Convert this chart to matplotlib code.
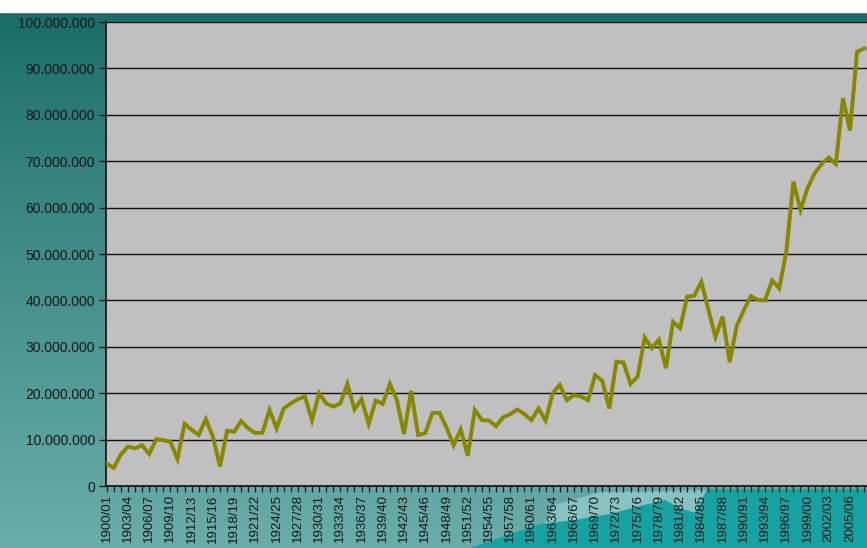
import numpy as np
import matplotlib
matplotlib.use("Agg")
import matplotlib.pyplot as plt
from matplotlib.patches import Polygon, Rectangle
from matplotlib.ticker import FuncFormatter, MultipleLocator

# Season labels 1900/01 ... 2007/08
start_years = list(range(1900, 2008))
seasons = [f"{y}/{(y + 1) % 100:02d}" for y in start_years]

# Yearly totals (millions)
values_m = [
    4.8, 3.9, 6.8, 8.5, 8.1, 8.8, 6.9, 10.1, 9.9, 9.5,
    5.8, 13.4, 12.1, 11.0, 14.4, 10.6, 4.2, 11.9, 11.7, 14.0,
    12.4, 11.4, 11.5, 16.4, 12.4, 16.7, 17.8, 18.7, 19.3, 14.2,
    20.0, 17.8, 17.1, 17.8, 22.0, 16.5, 18.7, 13.4, 18.4, 17.7,
    22.0, 18.5, 11.2, 20.5, 11.0, 11.4, 15.7, 15.8, 12.6, 8.8,
    12.2, 6.5, 16.4, 14.2, 14.1, 12.9, 14.8, 15.5, 16.5, 15.5,
    14.2, 16.7, 14.1, 20.0, 21.8, 18.5, 19.6, 19.3, 18.5, 23.9,
    22.7, 16.7, 26.8, 26.6, 22.0, 23.6, 32.0, 29.7, 31.5, 25.4,
    35.4, 34.0, 40.8, 41.0, 44.0, 38.0, 32.1, 36.5, 26.7, 34.5,
    37.9, 40.9, 40.1, 40.0, 44.3, 42.6, 50.5, 65.6, 59.5, 64.2,
    67.4, 69.4, 70.8, 69.4, 83.6, 76.6, 93.6, 94.3,
]
values = np.array(values_m) * 1e6

W, H = 867, 548
fig = plt.figure(figsize=(W / 100, H / 100), dpi=100)
fig.patch.set_facecolor("white")

# Teal backdrop
bg = fig.add_axes([0, 0, 1, 1], zorder=-5)
bg.set_xlim(0, W)
bg.set_ylim(H, 0)
bg.axis("off")
top = np.array([26, 108, 105]) / 255
bottom = np.array([106, 173, 169]) / 255
t = np.linspace(0, 1, 256)[:, None, None]
grad = top + (bottom - top) * t ** 0.9
grad = np.repeat(grad, 4, axis=1)
bg.imshow(grad, extent=(0, W, H, 12), aspect="auto", interpolation="bilinear")
bg.add_patch(Rectangle((0, 0), W, 12, color="white"))
bg.add_patch(Polygon([(530, 548), (555, 505), (600, 492), (707, 490), (707, 548)],
                     closed=True, color="#88c3c1", lw=0))
bg.add_patch(Polygon([(470, 548), (505, 536), (540, 524), (575, 520), (610, 514),
                      (640, 506), (665, 500), (680, 508), (695, 513), (707, 489),
                      (867, 489), (867, 548)],
                     closed=True, color="#16a2a1", lw=0))

ax = fig.add_axes([106 / W, (H - 486) / H, (W - 106) / W, (486 - 22) / H])
ax.set_facecolor("#c0c0c0")

x = np.arange(len(seasons))
ax.plot(x, values, color="#878700", lw=2.8, solid_joinstyle="miter", zorder=3)

ax.set_ylim(0, 100_000_000)
ax.set_xlim(-0.1, len(seasons) - 0.6)
ax.yaxis.set_major_locator(MultipleLocator(10_000_000))
ax.yaxis.set_major_formatter(
    FuncFormatter(lambda v, p: f"{int(v):,}".replace(",", "."))
)
ax.grid(axis="y", color="#111111", lw=1.0)
ax.set_axisbelow(True)

ax.set_xticks(x[::3])
ax.set_xticklabels(seasons[::3], rotation=90)
ax.set_xticks(x, minor=True)

for side in ("top", "right"):
    ax.spines[side].set_visible(False)
for side in ("left", "bottom"):
    ax.spines[side].set_color("#1a1a1a")
    ax.spines[side].set_linewidth(1.3)

ax.tick_params(axis="y", length=5, width=1, color="#1a1a1a", pad=3,
               labelsize=10, labelcolor="#151515")
ax.tick_params(axis="x", which="both", length=4, width=0.9, color="#1a1a1a",
               pad=2, labelsize=9.5, labelcolor="#151515")
for lab in ax.get_xticklabels() + ax.get_yticklabels():
    lab.set_family("Liberation Sans")

fig.savefig("out.png", dpi=100)
